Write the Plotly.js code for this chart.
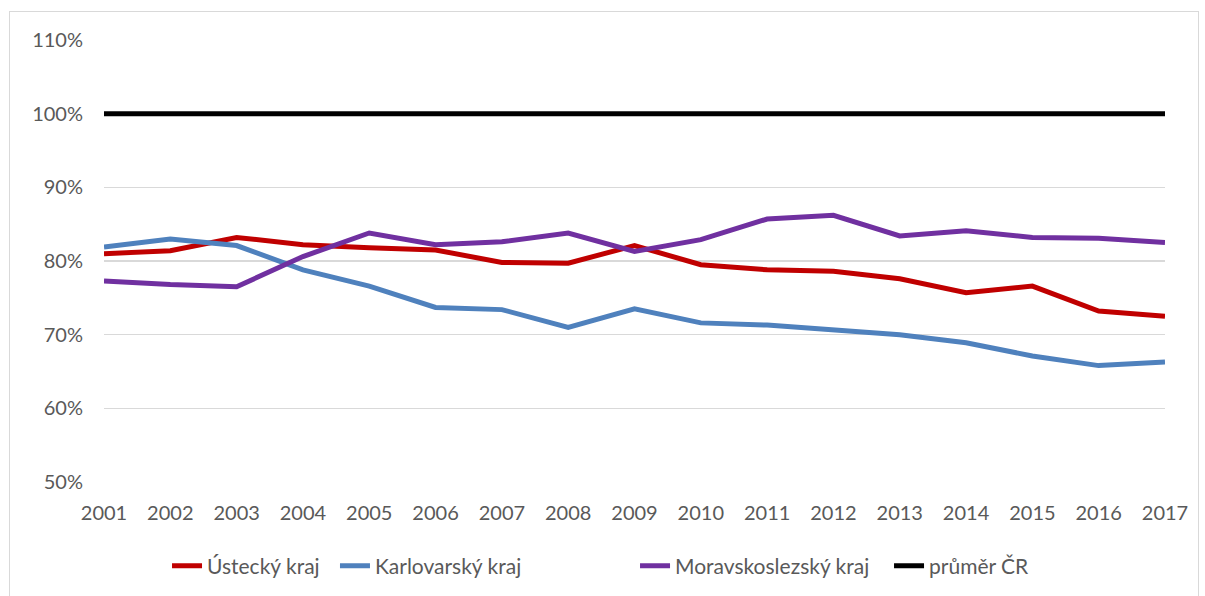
<!DOCTYPE html>
<html>
<head>
<meta charset="utf-8">
<script src="https://cdn.plot.ly/plotly-3.0.1.min.js"></script>
<style>
  html, body { margin: 0; padding: 0; background: #fff; }
  #chart { width: 1205px; height: 596px; position: absolute; left: 0; top: 0; }
  #frame { position: absolute; left: 9px; top: 11px; width: 1188px; height: 600px; border: 1px solid #d9d9d9; pointer-events: none; }
</style>
</head>
<body>
<div id="chart"></div>
<div id="frame"></div>
<script>
const years = [2001,2002,2003,2004,2005,2006,2007,2008,2009,2010,2011,2012,2013,2014,2015,2016,2017];
const ustecky = [81.0,81.4,83.2,82.2,81.8,81.5,79.8,79.7,82.1,79.5,78.8,78.6,77.6,75.7,76.6,73.2,72.5];
const karlovarsky = [81.9,83.0,82.1,78.8,76.6,73.7,73.4,71.0,73.5,71.6,71.3,70.6,70.0,68.9,67.1,65.8,66.3];
const moravskoslezsky = [77.3,76.8,76.5,80.6,83.8,82.2,82.6,83.8,81.3,82.9,85.7,86.2,83.4,84.1,83.2,83.1,82.5];
const prumerCR = [100,100,100,100,100,100,100,100,100,100,100,100,100,100,100,100,100];
const names = ["Ústecký kraj","Karlovarský kraj","Moravskoslezský kraj","průměr ČR"];

const colors = ["#C00000","#4F81BD","#7030A0","#000000"];
const legendIds = ["legend","legend2","legend3","legend4"];
const legendX = [0.0594, 0.2177, 0.5005, 0.7399];
const series = [ustecky, karlovarsky, moravskoslezsky, prumerCR];
const traces = series.map((s, i) => ({
  x: years, y: s, name: names[i], type: "scatter", mode: "lines",
  line: {color: colors[i], width: 5}, cliponaxis: false, legend: legendIds[i]
}));

const font = {family: "Lato, 'Open Sans', sans-serif", size: 20, color: "#595959"};
const legendFont = {family: "Lato, 'Open Sans', sans-serif", size: 21, color: "#595959"};
const layout = {
  width: 1205, height: 596,
  margin: {l: 104, r: 40, t: 40, b: 114, autoexpand: false},
  paper_bgcolor: "rgba(0,0,0,0)", plot_bgcolor: "#fff",
  font: font,
  showlegend: true,
  xaxis: {range: [2001, 2017], tickmode: "array", tickvals: years, ticktext: years.map(String),
          showgrid: false, zeroline: false, showline: false, ticks: "", ticklabelstandoff: 17,
          tickfont: font, fixedrange: true, automargin: false},
  yaxis: {range: [50, 110], dtick: 10, tick0: 50, ticksuffix: "%", showgrid: true,
          gridcolor: "#d9d9d9", gridwidth: 1.5, zeroline: false, showline: false, ticks: "",
          ticklabelstandoff: 20, tickfont: font, fixedrange: true, automargin: false}
};
legendIds.forEach((id, i) => {
  layout[id] = {orientation: "h", x: legendX[i], xanchor: "left", y: -0.19, yanchor: "middle",
                font: legendFont, bgcolor: "rgba(0,0,0,0)"};
});
Plotly.newPlot("chart", traces, layout, {displayModeBar: false, staticPlot: true});
</script>
</body>
</html>
